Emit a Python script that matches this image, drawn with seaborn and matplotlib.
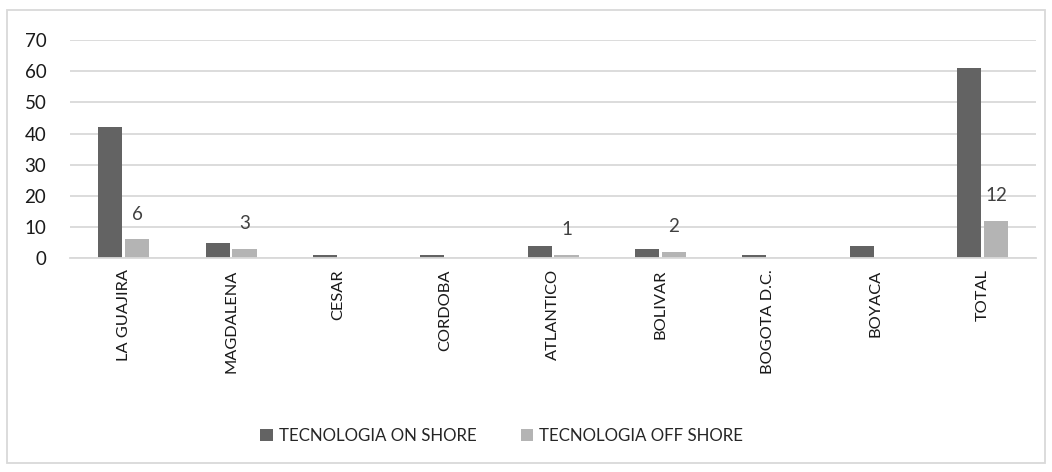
import matplotlib
matplotlib.use("Agg")
import matplotlib.pyplot as plt
import seaborn as sns
import pandas as pd
from matplotlib.patches import Rectangle

departamentos = ["LA GUAJIRA", "MAGDALENA", "CESAR", "CORDOBA", "ATLANTICO",
                 "BOLIVAR", "BOGOTA D.C.", "BOYACA", "TOTAL"]
on_shore = [42, 5, 1, 1, 4, 3, 1, 4, 61]
off_shore = [6, 3, 0, 0, 1, 2, 0, 0, 12]
series = ["TECNOLOGIA ON SHORE", "TECNOLOGIA OFF SHORE"]
y_ticks = [0, 10, 20, 30, 40, 50, 60, 70]

df = pd.DataFrame({
    "departamento": departamentos * 2,
    "serie": [series[0]] * len(departamentos) + [series[1]] * len(departamentos),
    "valor": on_shore + off_shore,
})

sns.set_theme(style="white")
plt.rcParams["font.family"] = ["Lato", "DejaVu Sans"]

fig = plt.figure(figsize=(10.52, 4.72), dpi=100)
ax = fig.add_axes([0.0665, 0.453, 0.9185, 0.462])

palette = {series[0]: "#636363", series[1]: "#b4b4b4"}
sns.barplot(data=df, x="departamento", y="valor", hue="serie", palette=palette,
            width=0.5, gap=0.1, ax=ax, legend=True, saturation=1, linewidth=0)

ax.set_ylim(0, 70)
ax.set_yticks(y_ticks)
ax.set_xlim(-0.5, len(departamentos) - 0.5)
ax.yaxis.grid(True, color="#d9d9d9", linewidth=1.3)
ax.set_axisbelow(True)
for s in ["top", "right", "left"]:
    ax.spines[s].set_visible(False)
ax.spines["bottom"].set_color("#d9d9d9")
ax.spines["bottom"].set_linewidth(1.3)
ax.set_xlabel("")
ax.set_ylabel("")
ax.tick_params(axis="y", labelsize=13.5, colors="#1a1a1a", length=0, pad=17)
ax.tick_params(axis="x", labelsize=11.8, colors="#1a1a1a", length=0, pad=8)
plt.setp(ax.get_xticklabels(), rotation=90, ha="center", va="top")

# value labels on the off-shore bars
off_container = ax.containers[1]
labels = [str(v) if v else "" for v in off_shore]
ax.bar_label(off_container, labels=labels, padding=12, fontsize=13.5, color="#404040")

leg = ax.legend(loc="center", bbox_to_anchor=(0.477, 36 / 472), bbox_transform=fig.transFigure,
                ncol=2, frameon=False, fontsize=12.2, handlelength=0.75, handleheight=0.75,
                columnspacing=2.6, handletextpad=0.35)

fig.patches.append(Rectangle((7 / 1052, 9 / 472), 1038 / 1052, 453 / 472,
                             transform=fig.transFigure, fill=False,
                             edgecolor="#d9d9d9", linewidth=1.3))

fig.savefig("out.png", dpi=100, facecolor="white")
